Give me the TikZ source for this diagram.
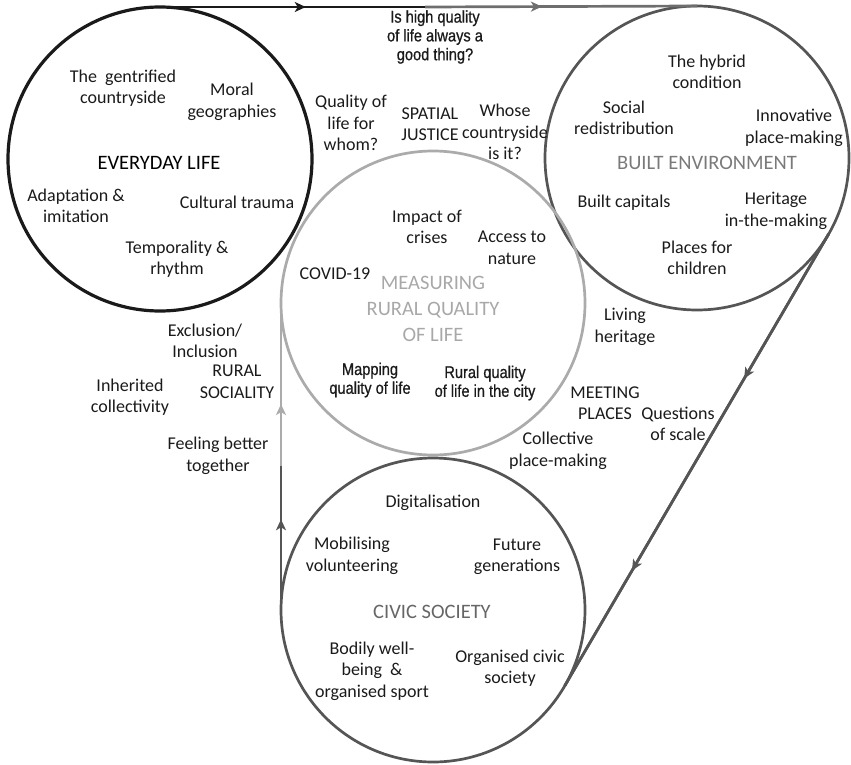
\documentclass[tikz,border=0pt]{standalone}
\usepackage{fontspec}
\setmainfont{Carlito}
\newfontfamily\narrowfont[FakeStretch=0.86,FakeBold=0.7]{Liberation Sans}
\usetikzlibrary{arrows.meta,decorations.markings}
\definecolor{cblack}{HTML}{1A1A1A}
\definecolor{cdark}{HTML}{555555}
\definecolor{clight}{HTML}{ABABAB}
\definecolor{hbuilt}{HTML}{7A7A7A}
\definecolor{hmeas}{HTML}{A8A8A8}
\definecolor{hcivic}{HTML}{666666}
\begin{document}
\begin{tikzpicture}[x=1pt,y=-1pt,
  lab/.style={align=center, font=\fontsize{18}{21.5}\selectfont, text=cblack, inner sep=0pt},
  narrowlab/.style={align=center, font=\narrowfont\fontsize{17}{18.8}\selectfont, text=cblack, inner sep=0pt},
  head/.style={align=center, font=\fontsize{20.5}{26}\selectfont, inner sep=0pt},
  ring/.style={circle, minimum size=304pt, inner sep=0pt, outer sep=0pt, line width=2.7pt},
  flow/.style={line width=2.7pt},
  midarrow/.style={postaction={decorate}, decoration={markings, mark=at position #1 with {\arrow{Stealth[length=11pt,width=10pt,inset=3pt]}}}},
]
\useasboundingbox (0,0) rectangle (851,765);

% circles
\node[ring, draw=cblack, line width=3.2pt] (every) at (160,159) {};
\node[ring, draw=cdark] (built) at (697,158) {};
\node[ring, draw=clight] (meas) at (433,303) {};
\node[ring, draw=cdark] (civic) at (433,610) {};

% colour-change points
\coordinate (topmid) at (425,7);
\coordinate (leftmid) at (281,466);

% connectors
\draw[flow, draw=cblack, midarrow=0.55] (every.north) -- (topmid);
\draw[flow, draw=cdark!85, midarrow=0.43] (topmid) -- (built.north);
\draw[flow, draw=cdark, midarrow=0.32] (built.-30.7) -- (civic.-30.7);
\path[flow, draw=cdark, midarrow=0.745] (built.-30.7) -- (civic.-30.7);
\draw[flow, draw=cdark, midarrow=0.63] (civic.west) -- (leftmid);
\draw[flow, draw=clight, midarrow=0.38] (leftmid) -- (meas.west);

% Everyday life
\node[head, text=black] (h1) at (159,163) {EVERYDAY LIFE};
\node[lab] (e1) at (123,88) {The\ \ gentrified\\countryside};
\node[lab] (e2) at (232,102) {Moral\\geographies};
\node[lab] (e3) at (76,206) {Adaptation \&\\imitation};
\node[lab] (e4) at (237,202) {Cultural trauma};
\node[lab] (e5) at (177,259) {Temporality \&\\rhythm};

% Built environment
\node[head, text=hbuilt] (h2) at (707,163) {BUILT ENVIRONMENT};
\node[lab] (b1) at (707,72) {The hybrid\\condition};
\node[lab] (b2) at (624,118) {Social\\redistribution};
\node[lab] (b3) at (794,128) {Innovative\\place-making};
\node[lab] (b4) at (624,203) {Built capitals};
\node[lab] (b5) at (776,211) {Heritage\\in-the-making};
\node[lab] (b6) at (697,258) {Places for\\children};

% Spatial justice
\node[narrowlab] (s0) at (435,37) {Is high quality\\of life always a\\good thing?};
\node[lab] (s1) at (351,123) {Quality of\\life for\\whom?};
\node[lab] (s2) at (430,124) {SPATIAL\\JUSTICE};
\node[lab] (s3) at (505,132) {Whose\\countryside\\is it?};

% Measuring
\node[head, text=hmeas] (h3) at (433,309) {MEASURING\\RURAL QUALITY\\OF LIFE};
\node[lab] (m1) at (427,227) {Impact of\\crises};
\node[lab] (m2) at (512,248) {Access to\\nature};
\node[lab] (m3) at (335,274) {COVID-19};
\node[narrowlab] (m4) at (370,380) {Mapping\\quality of life};
\node[narrowlab] (m5) at (485,383) {Rural quality\\of life in the city};

% Rural sociality
\node[lab] (r0) at (237,382) {RURAL\\SOCIALITY};
\node[lab] (r1) at (205,341) {Exclusion/\\Inclusion};
\node[lab] (r2) at (130,397) {Inherited\\collectivity};
\node[lab] (r3) at (218,456) {Feeling better\\together};

% Meeting places
\node[lab] (p0) at (605,403) {MEETING\\PLACES};
\node[lab] (p1) at (625,327) {Living\\heritage};
\node[lab] (p2) at (678,424) {Questions\\of scale};
\node[lab] (p3) at (558,451) {Collective\\place-making};

% Civic society
\node[head, text=hcivic] (h4) at (432,612) {CIVIC SOCIETY};
\node[lab] (c1) at (433,503) {Digitalisation};
\node[lab] (c2) at (352,556) {Mobilising\\volunteering};
\node[lab] (c3) at (517,557) {Future\\generations};
\node[lab] (c4) at (372,671) {Bodily well-\\being\ \ \&\\organised sport};
\node[lab] (c5) at (510,668) {Organised civic\\society};
\end{tikzpicture}
\end{document}
